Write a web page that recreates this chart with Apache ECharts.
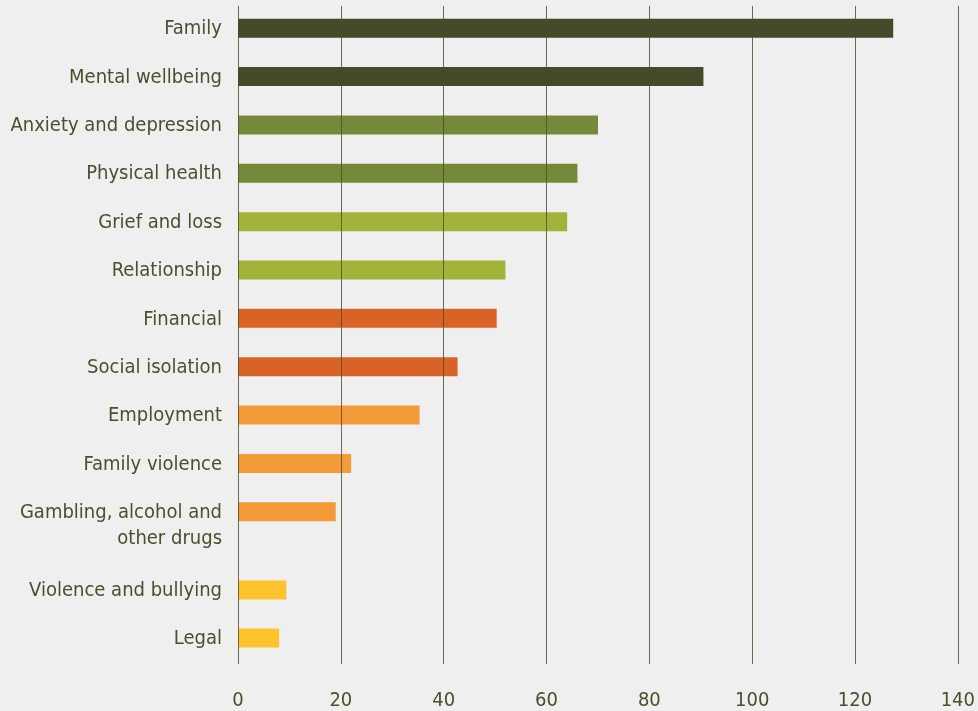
<!DOCTYPE html>
<html>
<head>
<meta charset="utf-8">
<script src="https://cdn.jsdelivr.net/npm/echarts@6/dist/echarts.min.js"></script>
<style>
  html, body { margin: 0; padding: 0; background: #efefef; }
  #main { width: 978px; height: 711px; }
</style>
</head>
<body>
<div id="main"></div>
<script>
// issue categories, top to bottom
const categories = [
  "Family",
  "Mental wellbeing",
  "Anxiety and depression",
  "Physical health",
  "Grief and loss",
  "Relationship",
  "Financial",
  "Social isolation",
  "Employment",
  "Family violence",
  "Gambling, alcohol and\nother drugs",
  "Violence and bullying",
  "Legal",
];
const values = [127.4, 90.5, 70, 66, 64, 52, 50.3, 42.7, 35.3, 22, 19, 9.4, 8];
const colorGroup = [0, 0, 1, 1, 2, 2, 3, 3, 4, 4, 4, 5, 5];
const palette = ["#464a2a", "#748a3a", "#a3b33a", "#d96327", "#f29b38", "#ffc42d"];
const xTicks = [0, 20, 40, 60, 80, 100, 120, 140];

const textColor = "#4a4f2e";
const font = "DejaVu Sans Condensed";

// the two-line label pushes the last rows down, so they live in their own grid
const split = 11;

function barData(from, to) {
  return values.slice(from, to).map((v, i) => ({
    value: v,
    itemStyle: { color: palette[colorGroup[from + i]] },
  }));
}

function catAxis(gridIndex, cats) {
  return {
    type: "category",
    gridIndex: gridIndex,
    data: cats,
    inverse: true,
    axisLine: { show: false },
    axisTick: { show: false },
    splitLine: { show: false },
    axisLabel: {
      color: textColor,
      fontFamily: font,
      fontSize: 20,
      margin: 16,
      padding: [2, 0, 0, 0],
      formatter: function (v) {
        // keep the first line level with the bar, the second hangs below
        return v.indexOf("\n") >= 0 ? "{w|" + v + "}" : v;
      },
      rich: {
        w: {
          color: textColor,
          fontFamily: font,
          fontSize: 20,
          lineHeight: 26,
          align: "right",
          padding: [26, 0, 0, 0],
        },
      },
    },
  };
}

function hiddenValueAxis(gridIndex) {
  return {
    type: "value",
    gridIndex: gridIndex,
    min: 0,
    max: 140,
    show: false,
  };
}

var chartDom = document.getElementById("main");
var myChart = echarts.init(chartDom);

var option = {
  backgroundColor: "#efefef",
  animation: false,
  grid: [
    { left: 238, width: 720, top: 6, height: 658 }, // gridlines + x labels
    { left: 238, width: 720, top: 4, height: 532 },
    { left: 238, width: 720, top: 566, height: 96 },
  ],
  xAxis: [
    {
      type: "value",
      gridIndex: 0,
      min: xTicks[0],
      max: xTicks[xTicks.length - 1],
      interval: xTicks[1] - xTicks[0],
      z: 10,
      axisLine: { show: false },
      axisTick: { show: false },
      splitLine: {
        show: true,
        lineStyle: { color: "#474b2c", width: 1, opacity: 0.8 },
      },
      axisLabel: {
        color: textColor,
        fontFamily: font,
        fontSize: 20,
        margin: 27,
      },
    },
    hiddenValueAxis(1),
    hiddenValueAxis(2),
  ],
  yAxis: [
    { type: "value", gridIndex: 0, show: false },
    catAxis(1, categories.slice(0, split)),
    catAxis(2, categories.slice(split)),
  ],
  series: [
    {
      type: "bar",
      xAxisIndex: 1,
      yAxisIndex: 1,
      barWidth: 19,
      data: barData(0, split),
    },
    {
      type: "bar",
      xAxisIndex: 2,
      yAxisIndex: 2,
      barWidth: 19,
      data: barData(split, values.length),
    },
  ],
};

myChart.setOption(option);
</script>
</body>
</html>
